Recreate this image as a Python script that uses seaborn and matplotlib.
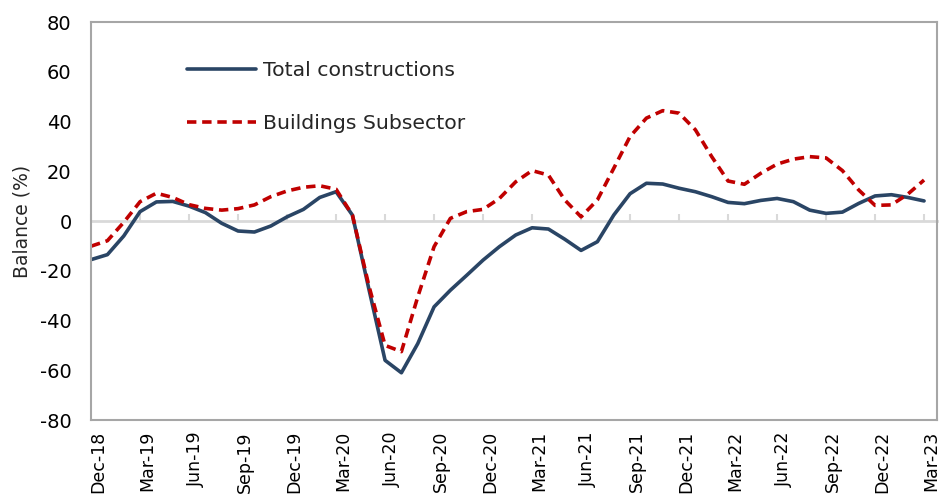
import pandas as pd
import numpy as np
import matplotlib
matplotlib.use("Agg")
import matplotlib.pyplot as plt
import matplotlib.transforms as mtrans
import seaborn as sns

# ---------- DATA (monthly) ----------
quarter_labels = ["Dec-18", "Mar-19", "Jun-19", "Sep-19", "Dec-19", "Mar-20",
                  "Jun-20", "Sep-20", "Dec-20", "Mar-21", "Jun-21", "Sep-21",
                  "Dec-21", "Mar-22", "Jun-22", "Sep-22", "Dec-22", "Mar-23"]

total = [-15.5, -13.5, -6.0, 3.8, 7.7, 7.9, 6.0, 3.4, -0.9, -4.0,
         -4.4, -2.0, 1.7, 4.7, 9.5, 11.8, 2.4, -27.1, -56.0, -61.0,
         -49.3, -34.5, -27.8, -21.8, -15.7, -10.3, -5.6, -2.7, -3.2, -7.3,
         -11.8, -8.3, 2.4, 11.0, 15.2, 14.9, 13.2, 11.8, 9.8, 7.5,
         7.0, 8.3, 9.1, 7.8, 4.4, 3.1, 3.6, 7.1, 10.1, 10.6,
         9.5, 8.1]

buildings = [-10.1, -7.9, -0.5, 7.8, 11.2, 9.5, 6.6, 5.1, 4.4, 5.0,
             6.5, 9.8, 12.1, 13.6, 14.2, 12.8, 2.4, -25.8, -50.0, -52.5,
             -30.5, -10.3, 1.1, 3.8, 4.7, 9.1, 15.8, 20.3, 18.5, 8.5,
             1.7, 8.5, 21.2, 34.0, 41.4, 44.4, 43.4, 36.7, 25.9, 16.1,
             14.8, 19.2, 22.9, 24.9, 25.9, 25.4, 20.3, 12.5, 6.3, 6.5,
             10.8, 16.5]

month = np.arange(len(total))
df = pd.DataFrame({"month": np.concatenate([month, month]),
                   "value": total + buildings,
                   "series": ["Total constructions"] * len(total)
                             + ["Buildings Subsector"] * len(buildings)})

# ---------- STYLE ----------
sns.set_theme(style="white")
plt.rcParams["font.family"] = ["DejaVu Sans"]
plt.rcParams["axes.unicode_minus"] = False

navy = "#2A4565"
red = "#C00000"

fig = plt.figure(figsize=(9.39, 5.03), dpi=100)
ax = fig.add_axes([0.097, 0.165, 0.901, 0.791])

sns.lineplot(data=df, x="month", y="value", hue="series", style="series",
             palette={"Total constructions": navy, "Buildings Subsector": red},
             dashes={"Total constructions": "", "Buildings Subsector": (2.6, 1.6)},
             linewidth=2.6, ax=ax)
for ln in ax.get_lines():
    ln.set_solid_joinstyle("round")
    ln.set_dash_joinstyle("round")

ax.set_xlim(0, 51.8)
ax.set_ylim(-80, 80)
ax.set_yticks(range(-80, 81, 20))
ax.tick_params(axis="y", length=0, pad=14, labelsize=14, colors="black")

qpos = np.arange(len(quarter_labels)) * 3
ax.set_xticks(qpos)
ax.set_xticklabels(quarter_labels, rotation=90, va="top", ha="center")
ax.tick_params(axis="x", length=0, pad=8, labelsize=12.5, colors="black")
shift = mtrans.ScaledTranslation(7 / 100, 0, fig.dpi_scale_trans)
for lab in ax.get_xticklabels():
    lab.set_transform(lab.get_transform() + shift)

ax.set_xlabel("")
ax.set_ylabel("Balance (%)", fontsize=13.5, labelpad=6)

for s in ax.spines.values():
    s.set_color("#A6A6A6")
    s.set_linewidth(1.5)

# zero axis with small tick marks
zero_ax = ax.secondary_xaxis(0.5)
zero_ax.set_xticks(qpos)
zero_ax.set_xticklabels([])
zero_ax.tick_params(axis="x", length=5, width=1.5, color="#D9D9D9",
                    direction="out")
for s in zero_ax.spines.values():
    s.set_color("#D9D9D9")
    s.set_linewidth(2)

leg = ax.legend(loc="upper left", bbox_to_anchor=(0.1135, 0.902),
                frameon=False, fontsize=14.7, handlelength=3.35,
                handletextpad=0.35, labelspacing=1.65,
                borderpad=0, borderaxespad=0)
leg.set_title(None)

fig.savefig("out.png", dpi=100)
